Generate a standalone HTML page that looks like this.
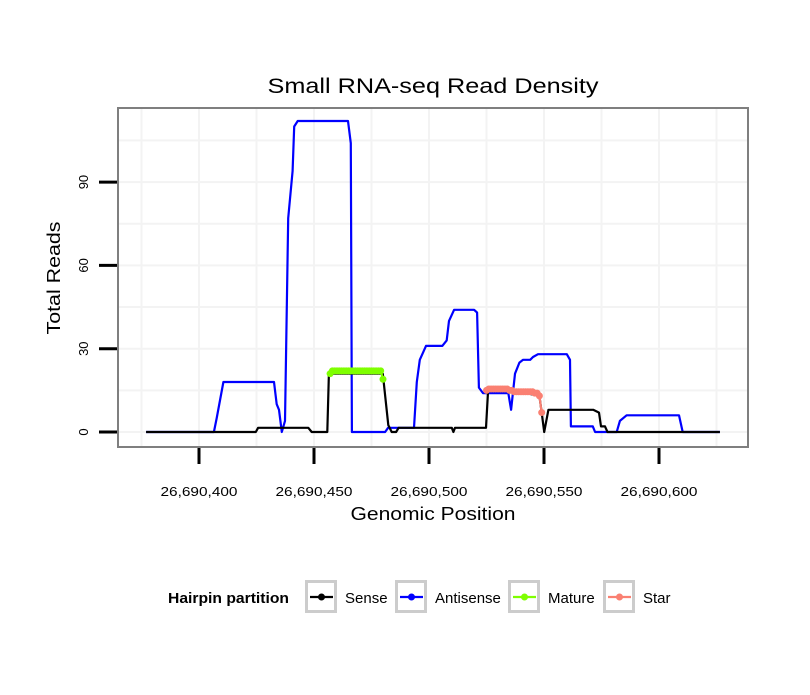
<!DOCTYPE html>
<html><head><meta charset="utf-8"><style>
body{margin:0;background:#fff}
svg text{font-family:"Liberation Sans",sans-serif}
</style></head><body>
<svg id="chart" width="810" height="690" xmlns="http://www.w3.org/2000/svg">
<rect width="810" height="690" fill="#fff"/>
<g id="grid"></g>
<g id="series"></g>
<rect x="118" y="108" width="630" height="339" fill="none" stroke="#7f7f7f" stroke-width="2"/>
<g id="axes"></g>
<text x="433" y="93" font-size="21" text-anchor="middle" textLength="331" lengthAdjust="spacingAndGlyphs">Small RNA-seq Read Density</text>
<text x="433" y="520" font-size="18" text-anchor="middle" textLength="165" lengthAdjust="spacingAndGlyphs">Genomic Position</text>
<text transform="translate(60,278) rotate(-90)" font-size="18" text-anchor="middle" textLength="113" lengthAdjust="spacingAndGlyphs">Total Reads</text>
<g>
<text x="168" y="603" font-size="15" font-weight="bold" textLength="121" lengthAdjust="spacingAndGlyphs">Hairpin partition</text>
<g id="legend"></g>
</g>
</svg>
<script>
const B=26690000;
const xTicks=[26690400,26690450,26690500,26690550,26690600];
const xTickLabels=["26,690,400","26,690,450","26,690,500","26,690,550","26,690,600"];
const yTicks=[0,30,60,90];
const antiPos=[377,406.5,407.7,410.6,432.6,433.8,434.8,436,437.4,438.8,440.7,441.4,442.9,464.8,466,466.5,480.9,482.2,493.5,494.7,496,498.7,505.8,507.7,508.7,510.9,519.6,520.9,521.7,523.5,534.5,535.7,537.4,539.3,540.9,544,545.2,547.4,559.9,561.3,561.7,571.2,572.2,581.6,583,585.9,608.7,610.3,626.5];
const antiVal=[0,0,5,18,18,10,8,0,4,77,94,110,112,112,104,0,0,1.5,1.5,18,26,31,31,33,40,44,44,43,16,14,14,8,21,25,26,26,27,28,28,26,2,2,0,0,4,6,6,0,0];
const sensePos=[377,424.7,425.7,447.5,449,455.8,456.5,479.9,482.3,483.8,485.7,486.8,509.9,510.6,511.3,524.8,525.7,536.5,548,549,550.1,551.9,571.4,573.9,574.8,576.5,577.6,626.5];
const senseVal=[0,0,1.5,1.5,0,0,21,21,2.5,0,0,1.5,1.5,0,1.5,1.5,15,15,13,7,0,8,8,7,2,2,0,0];
const maturePos=[457,458,459,460,461,462,463,464,465,466,467,468,469,470,471,472,473,474,475,476,477,478,479,480];
const matureVal=[21,22,22,22,22,22,22,22,22,22,22,22,22,22,22,22,22,22,22,22,22,22,22,19];
const starPos=[525,526,527,528,529,530,531,532,533,534,535,536,537,538,539,540,541,542,543,544,545,546,547,548,549];
const starVal=[15,15.5,15.5,15.5,15.5,15.5,15.5,15.5,15.5,15.5,15,15,14.5,14.5,14.5,14.5,14.5,14.5,14.5,14.5,14.5,14,14,13,7];
const X=p=>199+((p<1e6?p+B:p)-26690400)*2.3;
const Y=v=>432-v*2.777;
const NS="http://www.w3.org/2000/svg";
function mk(tag,parent,attrs){const e=document.createElementNS(NS,tag);for(const k in attrs)e.setAttribute(k,attrs[k]);document.getElementById(parent).appendChild(e);return e;}
for(let p=26690375;p<=26690625;p+=25){const el=mk('line','grid',{x1:X(p),x2:X(p),y1:109,y2:446,stroke:'#f3f3f3','stroke-width':2});

}
for(let v=0;v<=105;v+=15){const el=mk('line','grid',{x1:119,x2:747,y1:Y(v),y2:Y(v),stroke:'#f3f3f3','stroke-width':2});

}
xTicks.forEach((t,i)=>{const l=mk('line','axes',{x1:X(t),x2:X(t),y1:448,y2:464,stroke:'#000','stroke-width':3});


const tx=mk('text','axes',{x:X(t),y:496,'font-size':13,'text-anchor':'middle',textLength:77,lengthAdjust:'spacingAndGlyphs'});tx.textContent=xTickLabels[i];

});
yTicks.forEach(t=>{const l=mk('line','axes',{x1:99,x2:117,y1:Y(t),y2:Y(t),stroke:'#000','stroke-width':3});


const tx=mk('text','axes',{transform:`translate(88,${Y(t)}) rotate(-90)`,'font-size':13,'text-anchor':'middle'});tx.textContent=t;

});
function line(pos,val,col,name){const d=pos.map((p,i)=>(i?'L':'M')+X(p).toFixed(1)+','+Y(val[i]).toFixed(1)).join('');
const e=mk('path','series',{d:d,fill:'none',stroke:col,'stroke-width':2.2,'stroke-linejoin':'round'});

}
function dots(pos,val,col,name){pos.forEach((p,i)=>{const c=mk('circle','series',{cx:X(p),cy:Y(val[i]),r:3.5,fill:col});

});}
line(antiPos,antiVal,'#0000ff','antisense-line');
line(sensePos,senseVal,'#000','sense-line');
line(maturePos,matureVal,'#7fff00','mature-line');dots(maturePos,matureVal,'#7fff00','mature-point');
line(starPos,starVal,'#fa8072','star-line');dots(starPos,starVal,'#fa8072','star-point');
const legLabels=["Sense","Antisense","Mature","Star"];
const legColors=["#000","#0000ff","#7fff00","#fa8072"];
const legX=[305,395,508,603];
legLabels.forEach((s,i)=>{const r=mk('rect','legend',{x:legX[i]+1.5,y:581.5,width:29,height:30,fill:'#fff',stroke:'#cccccc','stroke-width':3});


mk('line','legend',{x1:legX[i]+5,x2:legX[i]+28,y1:597,y2:597,stroke:legColors[i],'stroke-width':2.2});
mk('circle','legend',{cx:legX[i]+16.5,cy:597,r:3.5,fill:legColors[i]});
const t=mk('text','legend',{x:legX[i]+40,y:603,'font-size':15});t.textContent=s;

});
</script>
</body></html>
